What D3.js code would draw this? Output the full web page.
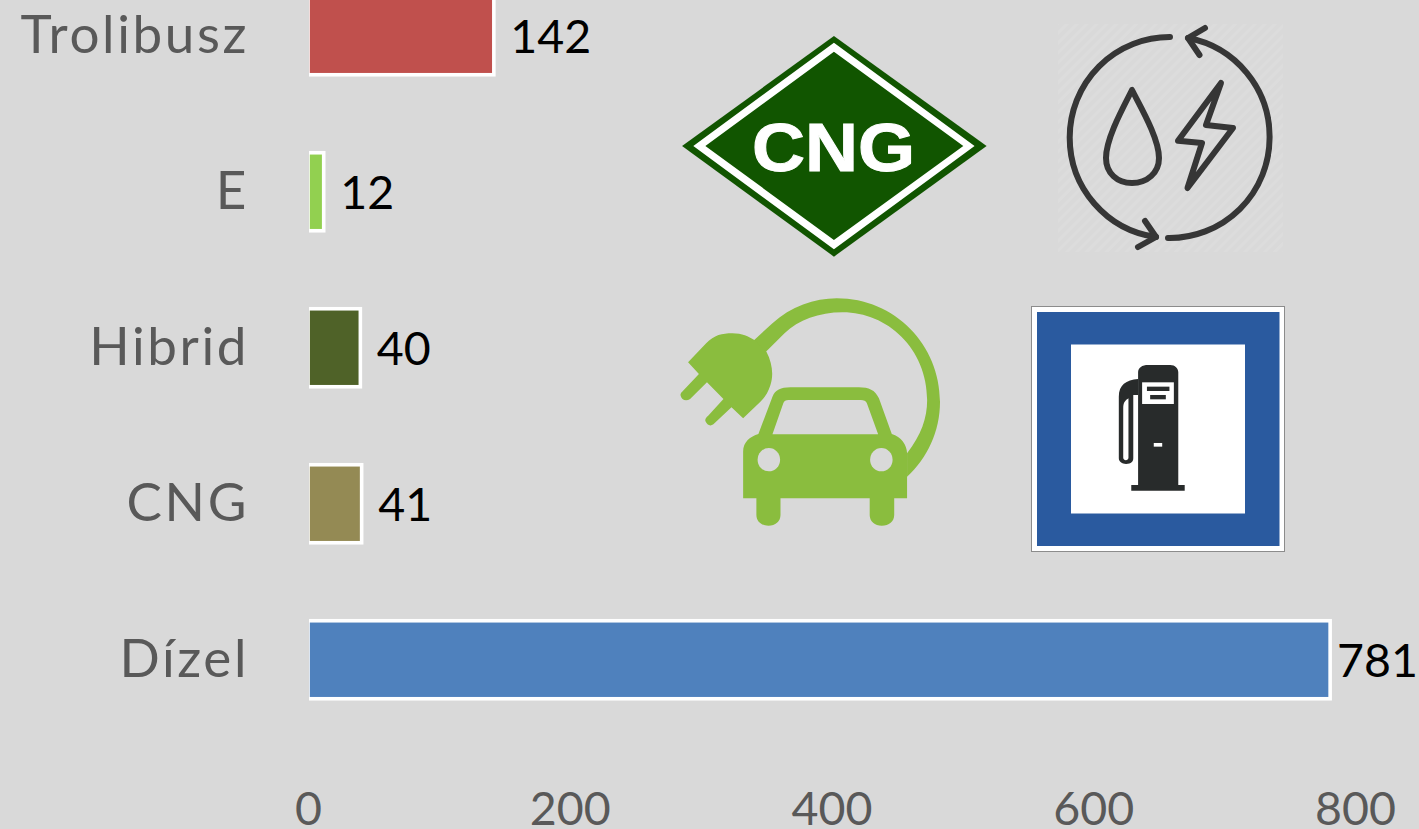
<!DOCTYPE html>
<html><head><meta charset="utf-8">
<script src="https://cdn.jsdelivr.net/npm/d3@7/dist/d3.min.js"></script>
<style>
html,body{margin:0;padding:0;background:#d9d9d9;overflow:hidden}
svg{display:block}
text{font-family:Lato,"Open Sans",sans-serif}
</style></head><body>
<script>
const categories = ["Trolibusz","E","Hibrid","CNG","Dízel"];
const values = [142,12,40,41,781];
const colors = ["#c0504d","#92d050","#4f6228","#948a54","#4f81bd"];
const xTicks = [0,200,400,600,800];

const W = 1419, H = 829;
const svg = d3.select("body").append("svg").attr("width",W).attr("height",H);
svg.append("rect").attr("width",W).attr("height",H).attr("fill","#d9d9d9");

const x = d3.scaleLinear().domain([0,800]).range([308,1355]);
const y = d3.scaleBand().domain(categories).range([-42.25,737.75]).paddingInner(0.5).paddingOuter(0.25);

const defs = svg.append("defs");
defs.append("clipPath").attr("id","plotClip").append("rect").attr("x",309).attr("y",-10).attr("width",1100).attr("height",800);
const hatch = defs.append("pattern").attr("id","hatch").attr("width",7).attr("height",7)
  .attr("patternUnits","userSpaceOnUse").attr("patternTransform","rotate(45)");
hatch.append("rect").attr("width",3).attr("height",7).attr("fill","#dcdcdc");

// Bars
svg.append("g").attr("clip-path","url(#plotClip)").selectAll("rect").data(categories).join("rect")
  .attr("x",x(0)).attr("y",d=>y(d))
  .attr("width",(d,i)=>x(values[i])-x(0)).attr("height",y.bandwidth())
  .attr("fill",(d,i)=>colors[i]).attr("stroke","#fff").attr("stroke-width",3.6);

// Value labels
svg.append("g").selectAll("text").data(categories).join("text")
  .attr("x",(d,i)=>Math.min(x(values[i])+16.5,1337))
  .attr("y",d=>y(d)+y.bandwidth()/2+17.5)
  .attr("font-size",46.5).attr("fill","#000")
  .text((d,i)=>values[i]);

// Axes
const gy = svg.append("g").attr("transform","translate(249,0)")
  .call(d3.axisLeft(y).tickSize(0).tickPadding(0));
gy.select(".domain").remove();
gy.selectAll("text").attr("font-size",53).attr("fill","#595959").attr("dy","0.33em").style("letter-spacing","2.6px");

const gx = svg.append("g").attr("transform","translate(0,785)")
  .call(d3.axisBottom(x).tickValues(xTicks).tickSize(0).tickPadding(0).tickFormat(d3.format("d")));
gx.select(".domain").remove();
gx.selectAll("text").attr("font-size",46.5).attr("fill","#595959").attr("dy","0.86em");

// ---- Icons (decoration) ----
// CNG diamond
const cng = svg.append("g").attr("transform","translate(670,10) scale(0.4018,0.3333)");
cng.append("path").attr("d","M408,78L788,408L408,740L30,408Z").attr("fill","#115500");
cng.append("path").attr("fill-rule","evenodd").attr("fill","#fff")
  .attr("d","M408,98L758,408L408,718L58,408ZM408,125L88,408L408,690L730,408Z");
svg.append("text").attr("x",752).attr("y",171).attr("textLength",163).attr("lengthAdjust","spacingAndGlyphs")
  .attr("font-size",68).attr("font-weight",700).attr("fill","#fff").attr("stroke","#fff").attr("stroke-width",1)
  .style("font-family","'Liberation Sans',Arial,sans-serif").text("CNG");

// Cycle icon
svg.append("rect").attr("x",1058).attr("y",24).attr("width",225).attr("height",228).attr("fill","url(#hatch)");
const cyc = svg.append("g").attr("fill","none").attr("stroke","#363636").attr("stroke-width",6)
  .attr("stroke-linecap","round").attr("stroke-linejoin","round");
cyc.append("path").attr("d","M1170,37A100,100.4 0 0 0 1069.7,137.4A100,100.4 0 0 0 1156,237");
cyc.append("path").attr("d","M1168,238A100,100.4 0 0 0 1269.6,137.4A100,100.4 0 0 0 1188,38");
cyc.append("path").attr("d","M1205,28L1188,38L1199.5,55");
cyc.append("path").attr("d","M1145,221L1156,237L1138,247");
cyc.append("path").attr("d","M1132,90C1124,106 1106,138 1106,158C1106,173 1117,183 1132,183C1147,183 1159,173 1159,158C1159,138 1140,106 1132,90Z");
cyc.append("path").attr("d","M1221,83L1206,125L1233,128L1187.5,188L1202,143L1178,140.7Z");

// Electric car
const car = svg.append("g").attr("transform","translate(670,285) scale(0.4018,0.3333)").attr("fill","#8abd3e");
car.append("path").attr("fill-rule","evenodd").attr("d","M182,640L182,500C182,470 200,455 220,447L255,335C262,315 275,307 300,307L470,307C495,307 510,315 520,340L552,447C575,455 590,480 590,505L590,640L558,640L558,690C558,710 545,722 527,722C510,722 497,710 497,690L497,640L275,640L275,690C275,710 262,722 245,722C228,722 215,710 215,690L215,640Z M255,448L518,448L490,355C488,348 482,345 475,345L295,345C288,345 284,348 282,355Z");
car.selectAll("ellipse").data([246,526]).join("ellipse").attr("cx",d=>d).attr("cy",524).attr("rx",28).attr("ry",35).attr("fill","#d9d9d9");
car.append("path").attr("d","M205,170L255,115C300,65 360,40 415,40C560,40 672,180 672,350C672,440 640,520 590,575L590,505C625,450 640,400 640,345C640,190 540,82 430,82C370,82 320,105 285,145L235,205Z");
car.append("path").attr("d","M45,232L90,175C110,150 130,145 155,145C180,145 195,155 210,165L240,200C255,235 258,270 250,300C245,320 235,340 225,350L182,400L153,367L108,418C100,425 92,420 88,408C87,402 90,397 95,392L133,342L92,292L50,342C40,350 28,345 26,330C26,325 30,320 32,318L72,267Z");

// Fuel sign
svg.append("rect").attr("x",1031.5).attr("y",306.5).attr("width",253).attr("height",245).attr("fill","#fff").attr("stroke","#8c8c8c").attr("stroke-width",1);
svg.append("rect").attr("x",1037).attr("y",312).attr("width",242.5).attr("height",234).attr("fill","#2a5a9f");
svg.append("rect").attr("x",1071).attr("y",344.5).attr("width",174).attr("height",169).attr("fill","#fff");
const pump = svg.append("g").attr("transform","translate(670,285) scale(0.4018,0.3333)");
pump.append("path").attr("fill","#282b2b").attr("d","M1165,600L1165,262C1165,248 1175,240 1190,240L1245,240C1257,240 1265,250 1265,262L1265,600L1281,600L1281,617L1148,617L1148,600Z");
pump.append("path").attr("fill","#282b2b").attr("d","M1165,282C1135,285 1117,300 1117,335L1117,520C1117,530 1125,537 1135,537C1148,537 1153,530 1153,520L1153,330L1165,330Z");
pump.append("path").attr("fill","#fff").attr("d","M1128,370C1128,350 1135,345 1141,340L1141,518C1141,528 1128,528 1128,518Z");
pump.append("rect").attr("x",1175).attr("y",292).attr("width",79).attr("height",65).attr("fill","#fff");
pump.append("rect").attr("x",1187).attr("y",305).attr("width",56).attr("height",13).attr("fill","#282b2b");
pump.append("rect").attr("x",1195).attr("y",330).attr("width",39).attr("height",13).attr("fill","#282b2b");
pump.append("rect").attr("x",1204).attr("y",474).attr("width",21).attr("height",11).attr("fill","#fff");
</script>
</body></html>
